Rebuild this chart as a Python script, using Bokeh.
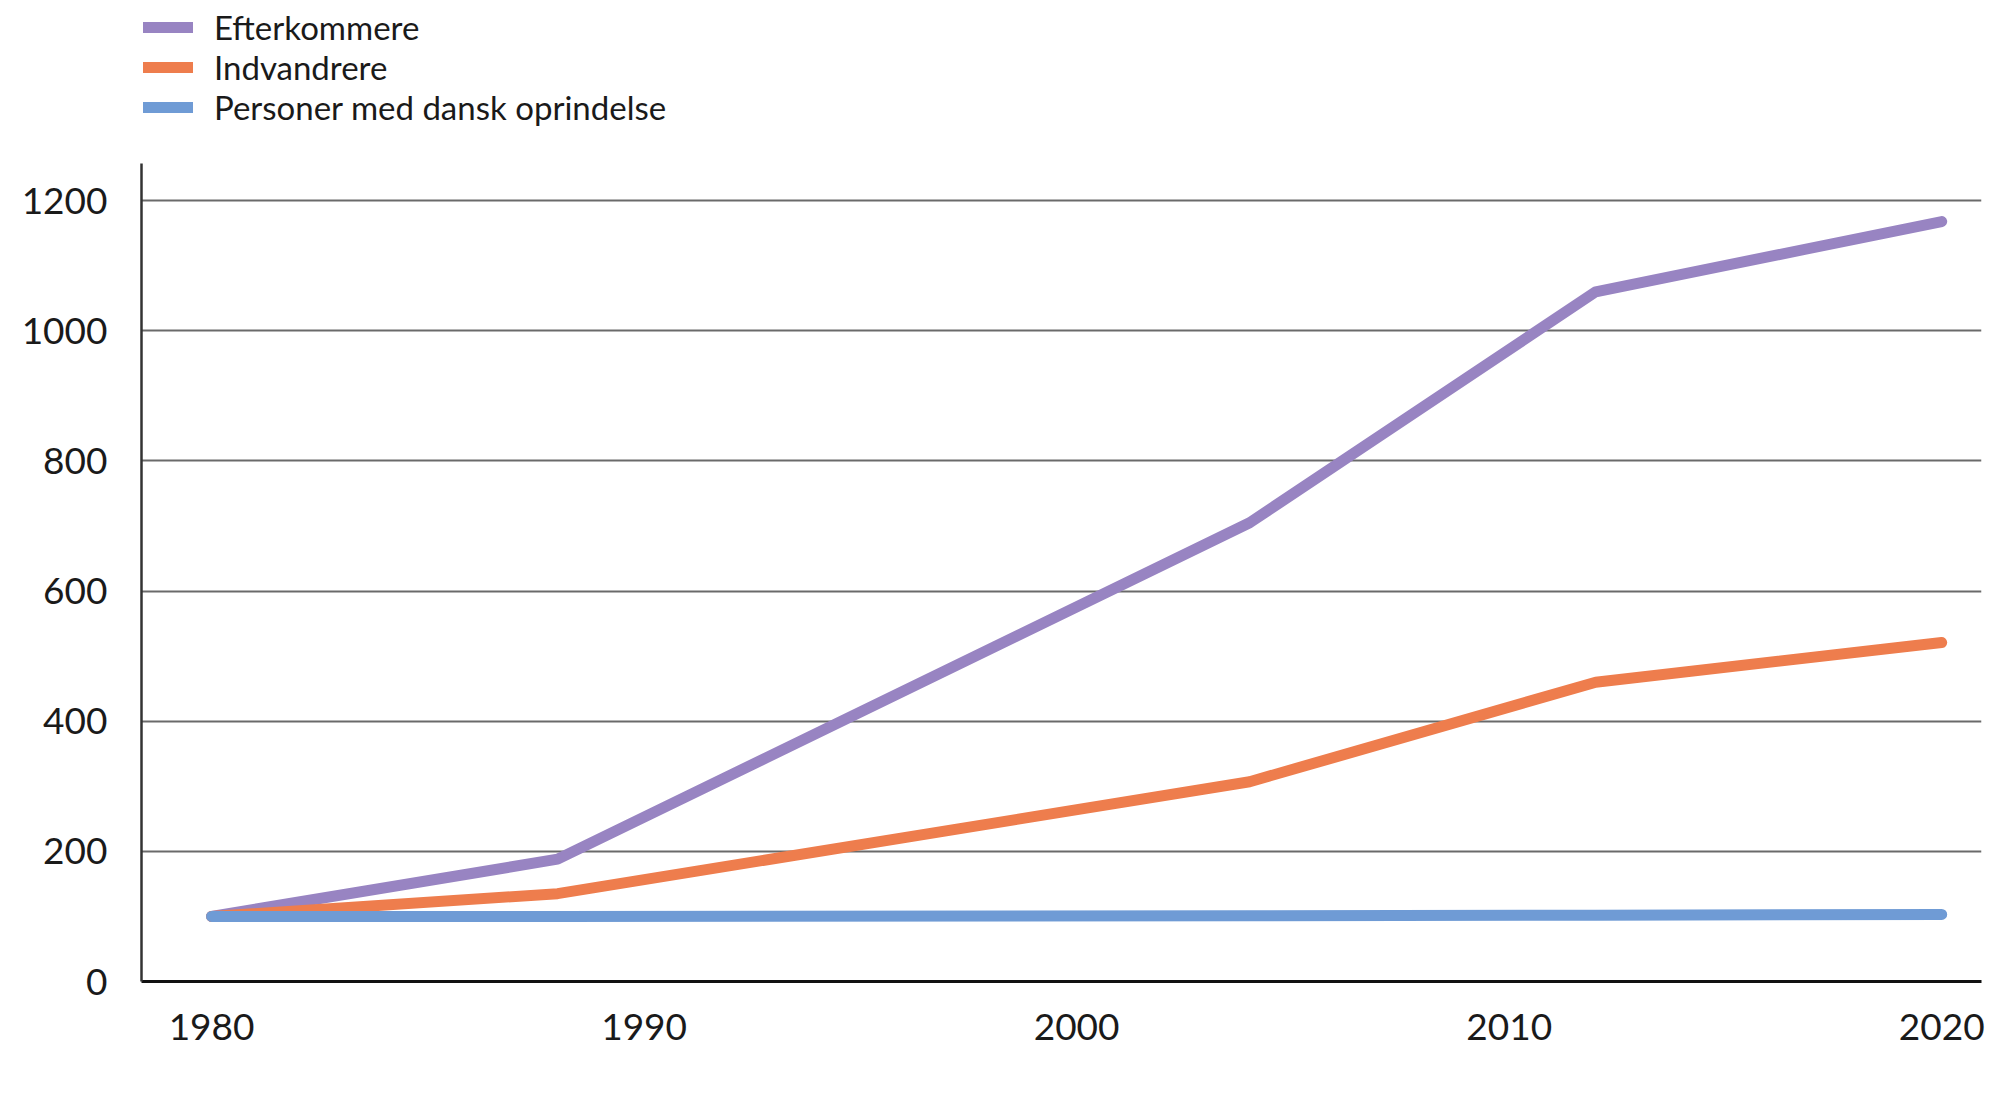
from bokeh.plotting import figure
from bokeh.models import Legend, LegendItem, FixedTicker, Range1d
from bokeh.embed import file_html
from bokeh.resources import INLINE

# Data (index, 1980 = 100)
years = [1980, 1988, 2004, 2012, 2020]
efterkommere = [100, 188, 705, 1060, 1168]
indvandrere = [100, 135, 307, 460, 521]
dansk = [100, 100, 101, 102, 103]

series_names = ["Efterkommere", "Indvandrere", "Personer med dansk oprindelse"]
colors = ["#9884C2", "#EE7D4D", "#6F9BD5"]

x_ticks = [1980, 1990, 2000, 2010, 2020]
y_ticks = [0, 200, 400, 600, 800, 1000, 1200]
y_axis_top = 1257  # where the drawn y axis line stops

FONT = "Lato"

# frame reaches up to the top so the legend (drawn inside it) is not clipped;
# the visible y axis is cut at y_axis_top with bounds
p = figure(width=1995, height=1090, output_backend="svg", toolbar_location=None,
           tools="", x_range=Range1d(1978.38, 2020.92), y_range=Range1d(0, 1500),
           min_border_left=141, min_border_top=5, min_border_right=14,
           min_border_bottom=109)

renderers = []
for vals, c in zip([efterkommere, indvandrere, dansk], colors):
    r = p.line(years, vals, line_color=c, line_width=11, line_cap="round",
               line_join="round")
    renderers.append(r)

legend = Legend(items=[LegendItem(label=n, renderers=[r]) for n, r in zip(series_names, renderers)],
                location=(2, 854), orientation="vertical")
legend.padding = 0
legend.margin = 0
legend.spacing = 0
legend.glyph_width = 50
legend.glyph_height = 40
legend.label_height = 40
legend.label_standoff = 21
legend.label_text_font = FONT
legend.label_text_font_size = "33px"
legend.label_text_color = "#1a1a1a"
legend.background_fill_alpha = 0
legend.border_line_color = None
p.add_layout(legend, "center")

p.outline_line_color = None
p.background_fill_color = "white"
p.border_fill_color = "white"

p.xgrid.grid_line_color = None
p.ygrid.grid_line_color = "#6a6a6a"
p.ygrid.grid_line_width = 2
p.ygrid.ticker = FixedTicker(ticks=y_ticks[1:])

p.xaxis.ticker = FixedTicker(ticks=x_ticks)
p.yaxis.ticker = FixedTicker(ticks=y_ticks)
p.yaxis.bounds = (0, y_axis_top)

for ax in [p.xaxis[0], p.yaxis[0]]:
    ax.major_tick_line_color = None
    ax.minor_tick_line_color = None
    ax.major_label_text_font = FONT
    ax.major_label_text_font_size = "37px"
    ax.major_label_text_color = "#1a1a1a"

p.xaxis.axis_line_color = "#111111"
p.xaxis.axis_line_width = 3
p.yaxis.axis_line_color = "#333333"
p.yaxis.axis_line_width = 2.5
p.yaxis.major_label_standoff = 28
p.xaxis.major_label_standoff = 26

open("out.html", "w").write(file_html(p, INLINE))
